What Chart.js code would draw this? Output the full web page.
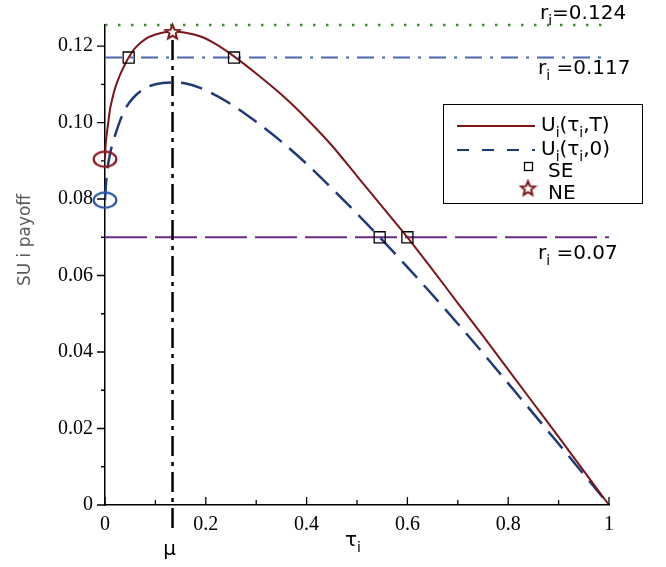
<!DOCTYPE html>
<html>
<head>
<meta charset="utf-8">
<script src="https://cdn.jsdelivr.net/npm/chart.js@4.4.1/dist/chart.umd.min.js"></script>
<style>
html,body{margin:0;padding:0;background:#fff;}
canvas{display:block;}
</style>
</head>
<body>
<canvas id="c" width="666" height="567"></canvas>
<script>
// ---- data ----
const tauT = [0, 0.001, 0.003, 0.006, 0.01, 0.015, 0.02, 0.03, 0.04, 0.047, 0.06, 0.08, 0.1, 0.134, 0.16, 0.19, 0.22, 0.256, 0.3, 0.35, 0.4, 0.45, 0.5, 0.55, 0.6, 0.65, 0.7, 0.75, 0.8, 0.85, 0.9, 0.95, 1];
const uT   = [0.0904, 0.0935, 0.0965, 0.0995, 0.1035, 0.1065, 0.109, 0.1125, 0.1153, 0.117, 0.1195, 0.1218, 0.123, 0.1238, 0.1235, 0.1225, 0.1205, 0.1173, 0.1128, 0.1073, 0.101, 0.094, 0.086, 0.078, 0.07, 0.0615, 0.0528, 0.0442, 0.0354, 0.0266, 0.0178, 0.0089, 0];
const tau0 = [0, 0.002, 0.005, 0.01, 0.015, 0.022, 0.03, 0.04, 0.055, 0.075, 0.1, 0.134, 0.16, 0.19, 0.22, 0.256, 0.3, 0.35, 0.4, 0.45, 0.5, 0.545, 0.6, 0.65, 0.7, 0.75, 0.8, 0.85, 0.9, 0.95, 1];
const u0   = [0.0797, 0.084, 0.088, 0.0918, 0.0945, 0.0975, 0.1005, 0.1035, 0.1063, 0.1086, 0.11, 0.1105, 0.1102, 0.109, 0.1071, 0.1043, 0.1002, 0.095, 0.0892, 0.0828, 0.0762, 0.07, 0.0622, 0.0549, 0.0474, 0.0397, 0.0318, 0.0239, 0.016, 0.008, 0];
const seTau = [0.047, 0.256, 0.545, 0.6];
const seU   = [0.117, 0.117, 0.07, 0.07];
const neTau = [0.134];
const neU   = [0.1238];
const startTau = [0, 0];
const startU   = [0.0904, 0.0797];
const refLevels = [0.1255, 0.117, 0.07];
const refLabels = ['0.124', '0.117', '0.07'];
const refSpan = [0, 1];
const mu = 0.134;
const muSpan = [-0.006, 0.1255];
const xMajor = [0, 0.2, 0.4, 0.6, 0.8, 1];
const xMinor = [0.1, 0.3, 0.5, 0.7, 0.9];
const yMajor = [0, 0.02, 0.04, 0.06, 0.08, 0.1, 0.12];
const yMinor = [0.01, 0.03, 0.05, 0.07, 0.09, 0.11];

// ---- styles ----
const RED = '#7d1519';
const NAVY = '#1f3a78';
const REFBLUE = '#4a68a8';
const PURPLE = '#6a2a86';
const GREEN = '#3f8f2f';

function pts(xs, ys){ return xs.map((x,i)=>({x:x, y:ys[i]})); }

function makeEllipse(color){
  const c=document.createElement('canvas'); c.width=28; c.height=20;
  const g=c.getContext('2d'); g.strokeStyle=color; g.lineWidth=2.2;
  g.beginPath(); g.ellipse(14,10,11.3,7.6,0,0,Math.PI*2); g.stroke();
  return c;
}
function makeStar(color, R, r){
  const s=Math.ceil(R*2+4); const c=document.createElement('canvas'); c.width=s; c.height=s;
  const g=c.getContext('2d'); const cx=s/2, cy=s/2+0.8;
  g.beginPath();
  for(let k=0;k<10;k++){
    const rad = k%2===0 ? R : r;
    const a = -Math.PI/2 + k*Math.PI/5;
    const px=cx+rad*Math.cos(a), py=cy+rad*Math.sin(a);
    if(k===0) g.moveTo(px,py); else g.lineTo(px,py);
  }
  g.closePath(); g.fillStyle='#fff'; g.fill(); g.strokeStyle=color; g.lineWidth=2; g.stroke();
  return c;
}
const starImg = makeStar(RED, 7.5, 3.3);
const starLegend = makeStar(RED, 7.5, 3.3);

function drawSub(ctx, parts, x, y, size){
  let cx = x;
  for(const [t, sub] of parts){
    ctx.font = (sub ? Math.round(size*0.7) : size) + 'px "DejaVu Sans"';
    ctx.fillText(t, cx, y + (sub ? size*0.3 : 0));
    cx += ctx.measureText(t).width;
  }
}

const decor = {
  id:'decor',
  afterDraw(chart){
    const {ctx, scales:{x, y}} = chart;
    ctx.save();
    ctx.strokeStyle='#000'; ctx.lineWidth=1.3;
    const yb = y.getPixelForValue(0), xl = x.getPixelForValue(0);
    ctx.beginPath();
    xMajor.forEach(v=>{ const p=x.getPixelForValue(v); ctx.moveTo(p,yb); ctx.lineTo(p,yb-8); });
    xMinor.forEach(v=>{ const p=x.getPixelForValue(v); ctx.moveTo(p,yb); ctx.lineTo(p,yb-5); });
    yMajor.forEach(v=>{ const p=y.getPixelForValue(v); ctx.moveTo(xl,p); ctx.lineTo(xl-8,p); });
    yMinor.forEach(v=>{ const p=y.getPixelForValue(v); ctx.moveTo(xl,p); ctx.lineTo(xl-4,p); });
    ctx.stroke();

    // axis titles
    ctx.fillStyle='#000'; ctx.textBaseline='alphabetic'; ctx.textAlign='left';
    ctx.font='20px "DejaVu Sans"';
    const mp = x.getPixelForValue(mu);
    const mw = ctx.measureText('μ').width;
    ctx.fillText('μ', mp - mw/2 - 3, 555);
    drawSub(ctx, [['τ',false],['i',true]], x.getPixelForValue(0.49) - 7, 546, 20);

    ctx.save();
    ctx.translate(24, 240); ctx.rotate(-Math.PI/2);
    ctx.font='17px "DejaVu Sans"'; ctx.fillStyle='#5a5a5a'; ctx.textAlign='center';
    ctx.fillText('SU i payoff', 0, 6);
    ctx.restore();

    // reference labels
    ctx.fillStyle='#000'; ctx.textAlign='left';
    drawSub(ctx, [['r',false],['i',true],['='+refLabels[0],false]], 540, 19, 20);
    drawSub(ctx, [['r',false],['i',true],[' ='+refLabels[1],false]], 538, 74, 20);
    drawSub(ctx, [['r',false],['i',true],[' ='+refLabels[2],false]], 538, 259, 20);

    // legend
    ctx.fillStyle='#fff'; ctx.fillRect(443,104,200,100);
    ctx.strokeStyle='#000'; ctx.lineWidth=1; ctx.strokeRect(443.5,104.5,199,99);
    ctx.lineWidth=2; ctx.strokeStyle=RED; ctx.beginPath(); ctx.moveTo(457,126); ctx.lineTo(535,126); ctx.stroke();
    ctx.strokeStyle=NAVY; ctx.setLineDash([12,13]); ctx.beginPath(); ctx.moveTo(457,150); ctx.lineTo(535,150); ctx.stroke();
    ctx.setLineDash([]);
    ctx.strokeStyle='#000'; ctx.lineWidth=1.3; ctx.strokeRect(524.5,162.5,8,8);
    ctx.drawImage(starLegend, 528-starLegend.width/2, 188-starLegend.height/2);
    ctx.fillStyle='#000';
    drawSub(ctx, [['U',false],['i',true],['(τ',false],['i',true],[',T)',false]], 541, 131, 20);
    drawSub(ctx, [['U',false],['i',true],['(τ',false],['i',true],[',0)',false]], 541, 155, 20);
    drawSub(ctx, [['SE',false]], 548, 177, 20);
    drawSub(ctx, [['NE',false]], 548, 199, 20);
    ctx.restore();
  }
};

const line = (data, color, width, dash, extra) => Object.assign({
  type:'scatter', data, showLine:true, borderColor:color, borderWidth:width,
  borderDash:dash, pointRadius:0, pointHoverRadius:0, fill:false, clip:false
}, extra||{});

new Chart(document.getElementById('c'), {
  type:'scatter',
  data:{ datasets:[
    {data:pts(neTau, neU), pointStyle:starImg, pointRadius:8, showLine:false, clip:false},
    {data:pts(seTau, seU), pointStyle:'rect', pointRadius:7.8, borderColor:'#000', borderWidth:1.3, backgroundColor:'rgba(0,0,0,0)', showLine:false, clip:false},
    {data:[{x:startTau[0], y:startU[0]}], pointStyle:makeEllipse('#8a1a1e'), pointRadius:10, showLine:false, clip:false},
    {data:[{x:startTau[1], y:startU[1]}], pointStyle:makeEllipse('#2a58a6'), pointRadius:10, showLine:false, clip:false},
    line(pts(tauT, uT), RED, 2, [], {cubicInterpolationMode:'monotone'}),
    line(pts(tau0, u0), NAVY, 2.5, [22,10], {cubicInterpolationMode:'monotone'}),
    line([{x:mu, y:muSpan[0]}, {x:mu, y:muSpan[1]}], '#000', 2.5, [20,6,4,6]),
    line(pts(refSpan, [refLevels[0], refLevels[0]]), GREEN, 2.5, [2.5,10.5]),
    line(pts(refSpan, [refLevels[1], refLevels[1]]), REFBLUE, 2, [17,8,3,8]),
    line(pts(refSpan, [refLevels[2], refLevels[2]]), PURPLE, 2, [42,8])
  ]},
  options:{
    responsive:false, devicePixelRatio:1, animation:false,
    layout:{padding:{left:0, right:57, top:25, bottom:0}},
    plugins:{legend:{display:false}, tooltip:{enabled:false}},
    elements:{line:{tension:0}},
    scales:{
      x:{type:'linear', min:0, max:1,
        afterFit(s){ s.height = 62; },
        ticks:{stepSize:0.2, color:'#000', padding:8, font:{family:'"Liberation Serif"', size:20},
          callback:v=> v===0?'0': (Math.abs(v-1)<1e-9?'1': v.toFixed(1))},
        grid:{display:true, drawOnChartArea:false, drawTicks:false},
        border:{display:true, color:'#000', width:1.5}},
      y:{type:'linear', min:0, max:0.1255,
        afterFit(s){ s.width = 105; },
        ticks:{stepSize:0.02, includeBounds:false, color:'#000', padding:12, font:{family:'"Liberation Serif"', size:20},
          callback:v=> v===0?'0': v.toFixed(2)},
        grid:{display:true, drawOnChartArea:false, drawTicks:false},
        border:{display:true, color:'#000', width:1.5}}
    }
  },
  plugins:[decor]
});
</script>
</body>
</html>
